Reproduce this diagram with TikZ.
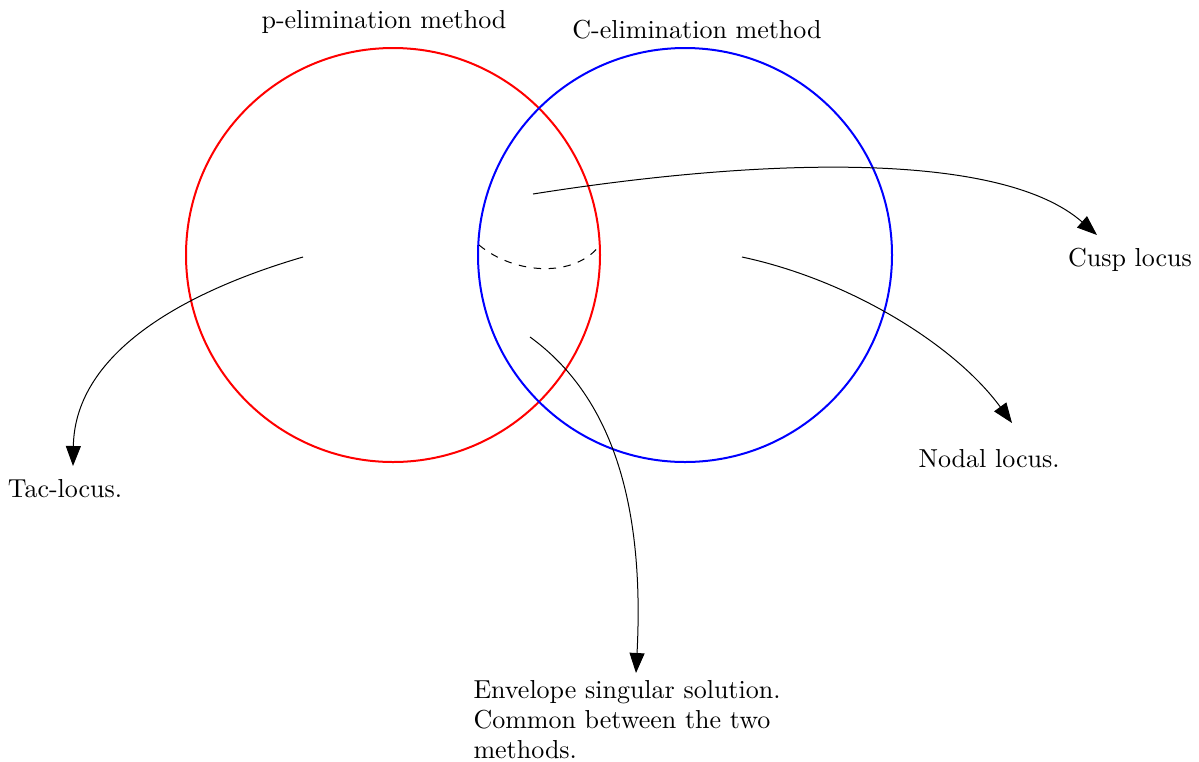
\documentclass[tikz,border=0pt]{standalone}
\usepackage{amsmath}
\usepackage{xcolor}
\usetikzlibrary{arrows.meta}

\begin{document}
\begin{tikzpicture}[x=0.4pt,y=-0.4pt]
\tikzstyle{every node}+=[inner sep=0pt, font=\fontsize{10.4pt}{12pt}\selectfont]
\tikzstyle{set}=[line width=0.8pt]
\tikzstyle{pointer}=[-{Triangle[length=8pt,width=6pt]}]
\useasboundingbox (0,0) rectangle (1199,761);
\draw [set, red] (393,255) circle (207);
\draw [set, blue] (685,255) circle (207);
\node (ptitle) at (384,22) {p-elimination method};
\node (ctitle) at (697,30) {C-elimination method};
\node (cusp) at (1130,260) {Cusp locus};
\node (nodal) at (989,459) {Nodal locus.};
\node (tac) at (65,489) {Tac-locus.};
\node [anchor=west, align=left] (env) at (473,720) {Envelope singular solution.\\Common between the two\\methods.};
\coordinate (cuspfrom) at (533,194);
\coordinate (cuspto) at (1097,235);
\coordinate (nodalfrom) at (742,257);
\coordinate (nodalto) at (1012,423);
\coordinate (tacfrom) at (303,257);
\coordinate (tacto) at (73,466);
\coordinate (envfrom) at (530,337);
\coordinate (envto) at (636,673);
\coordinate (dashl) at (479,245);
\coordinate (dashr) at (600,245);
\draw [pointer] (cuspfrom) .. controls (760,158) and (1000,150) .. (cuspto);
\draw [pointer] (nodalfrom) .. controls (850,280) and (955,345) .. (nodalto);
\draw [pointer] (tacfrom) .. controls (190,290) and (75,350) .. (tacto);
\draw [pointer] (envfrom) .. controls (610,395) and (645,500) .. (envto);
\draw [dashed] (dashl) .. controls (515,275) and (575,278) .. (dashr);
\end{tikzpicture}
\end{document}
